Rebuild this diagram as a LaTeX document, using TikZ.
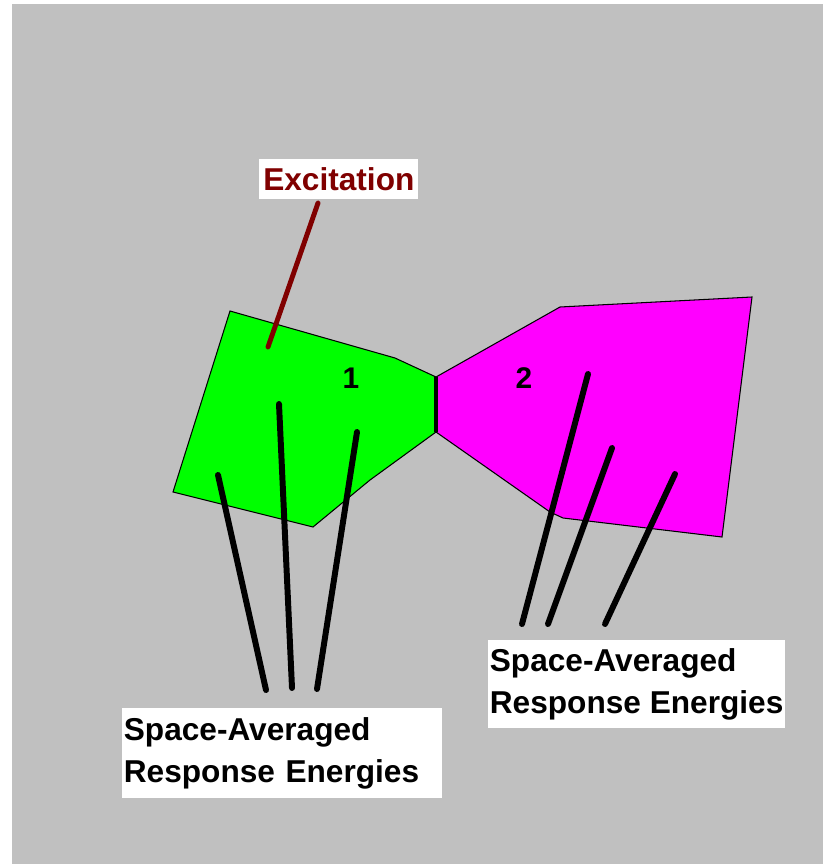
\documentclass[tikz,border=0pt]{standalone}
\usepackage{fontspec}
\setmainfont{Liberation Sans}
\usetikzlibrary{positioning}
\definecolor{panel}{RGB}{192,192,192}
\definecolor{subA}{RGB}{0,255,0}
\definecolor{subB}{RGB}{255,0,255}
\definecolor{maroon}{RGB}{128,0,0}
\tikzset{
  plate/.style={fill=#1,draw=black,line width=0.6pt},
  plate/.default=subA,
  stick/.style={line width=3.4pt,line cap=round,draw=#1},
  stick/.default=black,
  tag/.style={fill=white,inner xsep=0.03cm,inner ysep=0pt,anchor=north west,
    font=\fontsize{18}{24}\selectfont\bfseries,align=left},
  num/.style={font=\fontsize{17}{20}\selectfont\bfseries},
}
\begin{document}
\begin{tikzpicture}[x=0.02cm,y=-0.02cm]
  \useasboundingbox (0,0) rectangle (823,864);
  \fill[panel] (12,4) rectangle (823,864);
  % the two subsystems
  \draw[plate=subA] (230,311) -- (395,358) -- (436,377) -- (436,432) -- (370,480)
    -- (313,527) -- (173,492) -- cycle;
  \draw[plate=subB] (436,377) -- (560,307) -- (752,297) -- (722,537) -- (563,518)
    -- (550,512) -- (436,432) -- cycle;
  \coordinate (jtop) at (436,377);
  \coordinate (jbot) at (436,432);
  \draw[line width=2.8pt] (jtop) -- (jbot);
  \node[num] (one) at (351,378) {1};
  \node[num] (two) at (524,378) {2};
  % labels
  \node[tag,align=center,text=maroon,minimum width=3.18cm,minimum height=0.8cm] (exc) at (259,159) {Excitation};
  \node[tag,minimum width=6.4cm,minimum height=1.8cm,text width=6.34cm] (resA) at (122,708)
    {Space-Averaged\\Response Energies};
  \node[tag,minimum height=1.76cm] (resB) at (488,640)
    {Space-Averaged\\Response Energies};
  % pointers
  \coordinate (feed) at (318,203);
  \coordinate (hit) at (268,347);
  \draw[stick=maroon,line width=2.8pt] (feed) -- (hit);
  \foreach \n/\xa/\ya/\xb/\yb in {a1/218/475/266/690,a2/279/404/292/688,a3/357/432/317/689,
    b1/588/374/522/624,b2/612/448/548/624,b3/675/474/605/624}{
    \coordinate (\n s) at (\xa,\ya);
    \coordinate (\n e) at (\xb,\yb);
    \draw[stick] (\n s) -- (\n e);
  }
\end{tikzpicture}
\end{document}
